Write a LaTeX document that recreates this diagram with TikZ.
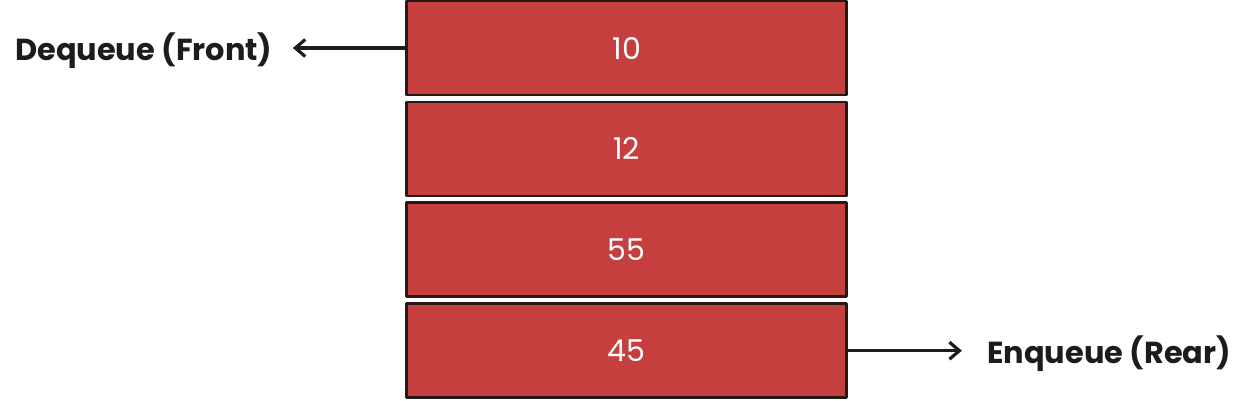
\documentclass[tikz,border=0pt]{standalone}
\usepackage{fontspec}
\setmainfont{Poppins}
\usepackage{tikz}
\usetikzlibrary{positioning}
\usetikzlibrary{arrows.meta}
\definecolor{cellred}{rgb}{0.773,0.247,0.247}
\definecolor{cellline}{rgb}{0.14,0.10,0.10}
\definecolor{inkgray}{rgb}{0.11,0.11,0.11}
\tikzset{
  cell/.style={draw=cellline,fill=cellred,line width=1.35pt,minimum width=220pt,minimum height=47pt,inner sep=0pt,font=\fontsize{15pt}{18pt}\selectfont,text=white},
  endlabel/.style={font=\fontsize{15.2pt}{19pt}\selectfont\bfseries,text=inkgray,inner ysep=0pt,yshift=-1.3pt},
  qarrow/.style={draw=inkgray,line width=1.6pt,-{Straight Barb[length=5pt,width=8.5pt]}}
}

\begin{document}
\begin{tikzpicture}[line cap=round,line join=round,x=0.5pt,y=0.5pt]
                    \useasboundingbox (0,0) rectangle (1255,401);

                    \node [cell] (c10) at (626.75,353) {10};
                    \node [cell,below=2.1pt of c10] (c12) {12};
                    \node [cell,below=2.1pt of c12] (c55) {55};
                    \node [cell,below=2.1pt of c55] (c45) {45};

                    \node [endlabel,inner xsep=10pt,left=56.3pt of c10] (front) {Dequeue (Front)};
                    \node [endlabel,inner xsep=12.5pt,right=56.9pt of c45] (rear) {Enqueue (Rear)};

                    \draw [qarrow] (c10) -- (c10 -| front.east);
                    \draw [qarrow] (c45) -- (c45 -| rear.west);
                    \end{tikzpicture}
\end{document}
